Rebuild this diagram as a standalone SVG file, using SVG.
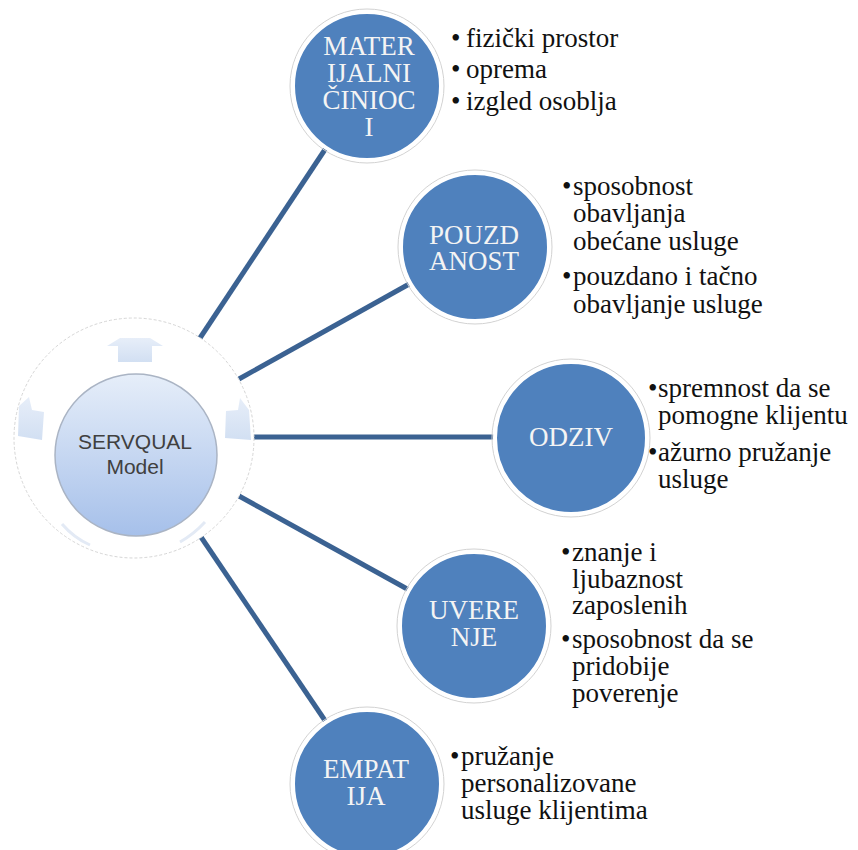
<svg xmlns="http://www.w3.org/2000/svg" width="858" height="850" viewBox="0 0 858 850">
<defs>
<linearGradient id="hub" x1="0" y1="0" x2="0" y2="1">
<stop offset="0" stop-color="#e6eef9"/>
<stop offset="1" stop-color="#a6c0ea"/>
</linearGradient>
<linearGradient id="arr" x1="0" y1="0" x2="0" y2="1">
<stop offset="0" stop-color="#e4ecf8"/>
<stop offset="1" stop-color="#cddcf1"/>
</linearGradient>
</defs>
<style>
.conn{stroke:#3b6292;stroke-width:5;stroke-linecap:butt;fill:none}
.node{fill:#4f81bd;stroke:#ffffff;stroke-width:4}
.halo{fill:none;stroke:#d2d2d2;stroke-width:1}
.nt{font-family:'Liberation Serif','Times New Roman',serif;font-size:27px;fill:#f4f4f4;text-anchor:middle}
.bt{font-family:'Liberation Serif','Times New Roman',serif;font-size:27px;fill:#111111}
.ht{font-family:'Liberation Sans',Arial,sans-serif;font-size:21px;fill:#404040;text-anchor:middle}
.arrow{fill:url(#arr);opacity:0.9}
</style>
<rect width="858" height="850" fill="#ffffff"/>

<g id="connectors">
<line class="conn" x1="200" y1="338" x2="326" y2="148"/>
<line class="conn" x1="239" y1="379" x2="411" y2="283"/>
<line class="conn" x1="254" y1="437" x2="496" y2="437"/>
<line class="conn" x1="239" y1="496" x2="409" y2="590"/>
<line class="conn" x1="201" y1="537" x2="326" y2="722"/>
</g>

<g id="servqual">
<circle cx="134" cy="438" r="120" fill="#ffffff" stroke="#d6d6d6" stroke-width="1" stroke-dasharray="3 2"/>
<polygon class="arrow" points="107,346 120,338 150,338 163,346 152,346 152,362 118,362 118,346"/>
<polygon class="arrow" points="19,406 29,397 32,410 44,412 42,440 18,436"/>
<polygon class="arrow" points="226,411 238,410 240,398 249,410 251,440 225,438"/>
<path d="M62,524 Q74,538 90,545" fill="none" stroke="#e3eaf5" stroke-width="3"/>
<path d="M180,542 Q194,534 205,522" fill="none" stroke="#e3eaf5" stroke-width="3"/>
<circle cx="136" cy="455" r="81" fill="url(#hub)" stroke="#aab4c4" stroke-width="1.5"/>
<text class="ht" x="135" y="449">SERVQUAL<tspan x="135" dy="25">Model</tspan></text>
</g>

<g id="materijalni">
<circle class="halo" cx="367" cy="86" r="77"/>
<circle class="node" cx="367" cy="86" r="74"/>
<text class="nt" x="369" y="55">MATER<tspan x="369" dy="27">IJALNI</tspan><tspan x="369" dy="27">ČINIOC</tspan><tspan x="369" dy="27">I</tspan></text>
<text class="bt" x="451" y="47">•<tspan x="466">fizički prostor</tspan></text>
<text class="bt" x="451" y="78">•<tspan x="466">oprema</tspan></text>
<text class="bt" x="451" y="110">•<tspan x="466">izgled osoblja</tspan></text>
</g>

<g id="pouzdanost">
<circle class="halo" cx="475" cy="247" r="77"/>
<circle class="node" cx="475" cy="247" r="74"/>
<text class="nt" x="474" y="244">POUZD<tspan x="474" dy="26">ANOST</tspan></text>
<text class="bt" x="562" y="195">•<tspan x="573">sposobnost</tspan><tspan x="573" dy="27">obavljanja</tspan><tspan x="573" dy="28">obećane usluge</tspan></text>
<text class="bt" x="562" y="285">•<tspan x="573">pouzdano i tačno</tspan><tspan x="573" dy="28">obavljanje usluge</tspan></text>
</g>

<g id="odziv">
<circle class="halo" cx="571" cy="438" r="79"/>
<circle class="node" cx="571" cy="438" r="76"/>
<text class="nt" x="571" y="446">ODZIV</text>
<text class="bt" x="648" y="397">•<tspan x="658">spremnost da se</tspan><tspan x="658" dy="27">pomogne klijentu</tspan></text>
<text class="bt" x="648" y="461">•<tspan x="658">ažurno pružanje</tspan><tspan x="658" dy="27">usluge</tspan></text>
</g>

<g id="uverenje">
<circle class="halo" cx="474" cy="626" r="77"/>
<circle class="node" cx="474" cy="626" r="74"/>
<text class="nt" x="474" y="619">UVERE<tspan x="474" dy="27">NJE</tspan></text>
<text class="bt" x="561" y="561">•<tspan x="572">znanje i</tspan><tspan x="572" dy="27">ljubaznost</tspan><tspan x="572" dy="26">zaposlenih</tspan></text>
<text class="bt" x="561" y="648">•<tspan x="572">sposobnost da se</tspan><tspan x="572" dy="27">pridobije</tspan><tspan x="572" dy="27">poverenje</tspan></text>
</g>

<g id="empatija">
<circle class="halo" cx="367" cy="784" r="77"/>
<circle class="node" cx="367" cy="784" r="74"/>
<text class="nt" x="366" y="778">EMPAT<tspan x="366" dy="27">IJA</tspan></text>
<text class="bt" x="450" y="765">•<tspan x="461">pružanje</tspan><tspan x="461" dy="27">personalizovane</tspan><tspan x="461" dy="27">usluge klijentima</tspan></text>
</g>
</svg>
